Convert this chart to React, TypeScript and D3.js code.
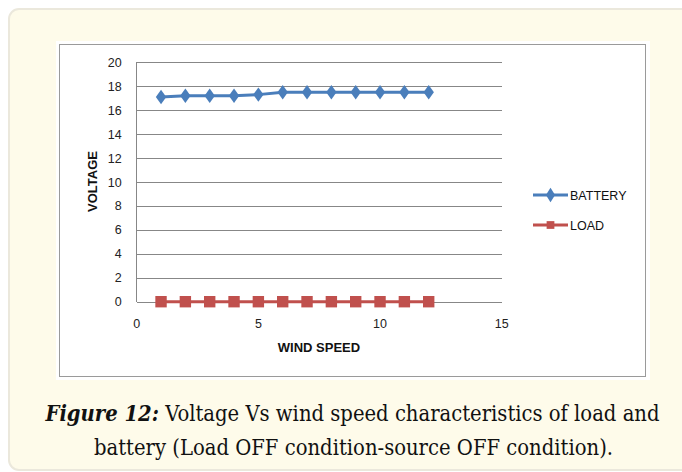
import { useEffect, useRef } from 'react';
import * as d3 from 'd3';

const windSpeed = [1, 2, 3, 4, 5, 6, 7, 8, 9, 10, 11, 12];
const battery = [17.1, 17.2, 17.2, 17.2, 17.3, 17.5, 17.5, 17.5, 17.5, 17.5, 17.5, 17.5];
const load = [0, 0, 0, 0, 0, 0, 0, 0, 0, 0, 0, 0];
const xTicks = [0, 5, 10, 15];
const yTicks = [0, 2, 4, 6, 8, 10, 12, 14, 16, 18, 20];
const seriesNames = ['BATTERY', 'LOAD'];
const captionBold = 'Figure 12:';
const captionLine1 = ' Voltage Vs wind speed characteristics of load and';
const captionLine2 = 'battery (Load OFF condition-source OFF condition).';

function App() {
	const ref = useRef<SVGSVGElement>(null);

	const drawChart = () => {
		const width = 682;
		const height = 472;
		const plot = { left: 136.7, right: 501.7, top: 62.3, bottom: 301.7 };
		const sans = "'Liberation Sans', Arial, sans-serif";
		const blue = '#4a7ebb';
		const red = '#c0504d';

		const svg = d3.select(ref.current);
		svg.selectAll('*').remove();
		svg.attr('width', width).attr('height', height);

		// card background
		svg.append('rect')
			.attr('x', 9).attr('y', 9)
			.attr('width', 700).attr('height', 461)
			.attr('rx', 10)
			.attr('fill', '#fefbea')
			.attr('stroke', '#ebe8dc')
			.attr('stroke-width', 2);

		// chart panel
		svg.append('rect')
			.attr('x', 56).attr('y', 41)
			.attr('width', 594).attr('height', 339)
			.attr('fill', '#ffffff');
		svg.append('rect')
			.attr('x', 59.5).attr('y', 44.5)
			.attr('width', 586).attr('height', 332)
			.attr('fill', 'none')
			.attr('stroke', '#9a9a9a')
			.attr('stroke-width', 1);

		const xScale = d3.scaleLinear().domain([0, 15]).range([plot.left, plot.right]);
		const yScale = d3.scaleLinear().domain([0, 20]).range([plot.bottom, plot.top]);

		// horizontal grid
		svg.append('g')
			.attr('transform', `translate(${plot.left},0)`)
			.call(d3.axisLeft(yScale).tickValues(yTicks).tickSize(-(plot.right - plot.left)).tickFormat(() => ''))
			.call(g => g.select('.domain').remove())
			.call(g => g.selectAll('.tick line').attr('stroke', '#878787').attr('shape-rendering', 'crispEdges'));

		// y axis line
		svg.append('line')
			.attr('x1', plot.left).attr('x2', plot.left)
			.attr('y1', plot.top).attr('y2', plot.bottom)
			.attr('stroke', '#878787')
			.attr('shape-rendering', 'crispEdges');

		// y tick labels
		svg.append('g')
			.selectAll('text')
			.data(yTicks)
			.join('text')
			.attr('x', 121.7)
			.attr('y', d => yScale(d) + 4.5)
			.attr('text-anchor', 'end')
			.attr('font-family', sans)
			.attr('font-size', 12.5)
			.attr('fill', '#222')
			.text(d => d);

		// x tick labels
		svg.append('g')
			.selectAll('text')
			.data(xTicks)
			.join('text')
			.attr('x', d => xScale(d))
			.attr('y', 327.5)
			.attr('text-anchor', 'middle')
			.attr('font-family', sans)
			.attr('font-size', 12.5)
			.attr('fill', '#222')
			.text(d => d);

		// axis titles
		svg.append('text')
			.attr('transform', `translate(96.5,181.5) rotate(-90)`)
			.attr('text-anchor', 'middle')
			.attr('font-family', sans)
			.attr('font-weight', 'bold')
			.attr('font-size', 13)
			.attr('fill', '#111')
			.text('VOLTAGE');
		svg.append('text')
			.attr('x', 319)
			.attr('y', 352)
			.attr('text-anchor', 'middle')
			.attr('font-family', sans)
			.attr('font-weight', 'bold')
			.attr('font-size', 13)
			.attr('fill', '#111')
			.text('WIND SPEED');

		const line = d3.line<number>()
			.x((_, i) => xScale(windSpeed[i]))
			.y(d => yScale(d));

		const diamond = d3.symbol().type(d3.symbolDiamond).size(60);
		const square = d3.symbol().type(d3.symbolSquare).size(130);

		// battery series
		svg.append('path')
			.datum(battery)
			.attr('fill', 'none')
			.attr('stroke', blue)
			.attr('stroke-width', 3)
			.attr('d', line);
		svg.append('g')
			.selectAll('path')
			.data(battery)
			.join('path')
			.attr('transform', (d, i) => `translate(${xScale(windSpeed[i])},${yScale(d)}) scale(1.25,1)`)
			.attr('fill', blue)
			.attr('d', diamond);

		// load series
		svg.append('path')
			.datum(load)
			.attr('fill', 'none')
			.attr('stroke', red)
			.attr('stroke-width', 3)
			.attr('d', line);
		svg.append('g')
			.selectAll('path')
			.data(load)
			.join('path')
			.attr('transform', (d, i) => `translate(${xScale(windSpeed[i])},${yScale(d)})`)
			.attr('fill', red)
			.attr('d', square);

		// legend
		const legend = svg.append('g');
		const legendColors = [blue, red];
		const legendSymbols = [diamond, d3.symbol().type(d3.symbolSquare).size(60)];
		seriesNames.forEach((name, i) => {
			const y = 195 + i * 30;
			legend.append('line')
				.attr('x1', 533).attr('x2', 568)
				.attr('y1', y).attr('y2', y)
				.attr('stroke', legendColors[i])
				.attr('stroke-width', 3);
			legend.append('path')
				.attr('transform', `translate(550.5,${y})${i === 0 ? ' scale(1.1,1)' : ''}`)
				.attr('fill', legendColors[i])
				.attr('d', legendSymbols[i]);
			legend.append('text')
				.attr('x', 570)
				.attr('y', y + 4.5)
				.attr('font-family', sans)
				.attr('font-size', 12.5)
				.attr('fill', '#111')
				.text(name);
		});

		// caption
		const serif = "'DejaVu Serif', 'Liberation Serif', serif";
		const cap1 = svg.append('text')
			.attr('x', 352.5)
			.attr('y', 421)
			.attr('text-anchor', 'middle')
			.attr('font-family', serif)
			.attr('font-stretch', 'condensed')
			.attr('font-size', 21.8)
			.attr('fill', '#111');
		cap1.append('tspan')
			.attr('font-weight', 'bold')
			.attr('font-style', 'italic')
			.text(captionBold);
		cap1.append('tspan').text(captionLine1);
		svg.append('text')
			.attr('x', 353.5)
			.attr('y', 455)
			.attr('text-anchor', 'middle')
			.attr('font-family', serif)
			.attr('font-stretch', 'condensed')
			.attr('font-size', 21.8)
			.attr('fill', '#111')
			.text(captionLine2);
	};

	useEffect(() => {
		drawChart();
	}, []);

	return (
		<svg ref={ref} style={{ position: 'absolute', left: 0, top: 0 }}></svg>
	);
}

export default App;
